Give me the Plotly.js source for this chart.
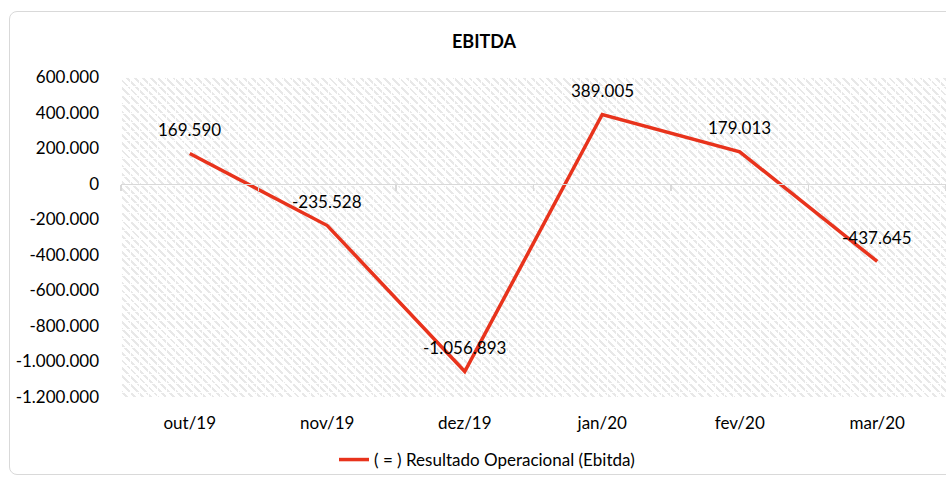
<!DOCTYPE html>
<html>
<head>
<meta charset="utf-8">
<script src="https://cdn.plot.ly/plotly-3.0.1.min.js"></script>
<style>
  html, body { margin:0; padding:0; background:#fff; width:946px; height:479px; overflow:hidden; }
  #frame { position:absolute; left:9px; top:11px; width:980px; height:464px; border:1px solid #d9d9d9; border-radius:8px; box-sizing:border-box; }
  #hatch { position:absolute; left:121px; top:77px; width:825px; height:320px;
    background-color:#fff;
    background-image:
      linear-gradient(to right, rgba(255,255,255,0.95) 1px, transparent 1px),
      linear-gradient(to bottom, rgba(255,255,255,0.95) 1px, transparent 1px),
      repeating-linear-gradient(45deg, #fff 0px, #fff 3.5px, #e8e8e8 3.5px, #e8e8e8 5.5px);
    background-size: 9px 9px, 9px 9px, auto;
  }
  #chart { position:absolute; left:0; top:0; width:946px; height:479px; }
</style>
</head>
<body>
<div id="frame"></div>
<div id="hatch"></div>
<div id="chart"></div>
<script>
const categories = ['out/19','nov/19','dez/19','jan/20','fev/20','mar/20'];
const ebitda = [169590, -235528, -1056893, 389005, 179013, -437645];
const valueLabels = ['169.590','-235.528','-1.056.893','389.005','179.013','-437.645'];
const yTickVals = [600000, 400000, 200000, 0, -200000, -400000, -600000, -800000, -1000000, -1200000];
const yTickText = ['600.000','400.000','200.000','0','-200.000','-400.000','-600.000','-800.000','-1.000.000','-1.200.000'];
const seriesName = '( = ) Resultado Operacional (Ebitda)';

const font = 'Lato, "Open Sans", "Liberation Sans", sans-serif';

const trace = {
  x: categories,
  y: ebitda,
  type: 'scatter',
  mode: 'lines',
  name: seriesName,
  line: { color: '#e8331c', width: 3.5 },
  hoverinfo: 'x+y'
};

const annotations = categories.map((c, i) => ({
  x: c, y: ebitda[i], xref: 'x', yref: 'y', text: valueLabels[i],
  showarrow: false, yshift: 24, xanchor: 'center', yanchor: 'middle',
  font: { family: font, size: 17, color: '#000' }
}));

const layout = {
  width: 946, height: 479,
  margin: { l: 121, r: 0, t: 77, b: 82 },
  paper_bgcolor: 'rgba(0,0,0,0)',
  plot_bgcolor: 'rgba(0,0,0,0)',
  font: { family: font, size: 17, color: '#000' },
  title: { text: '<b>EBITDA</b>', font: { family: font, size: 18, color: '#000' },
           xref: 'container', x: 484/946, xanchor: 'center', yref: 'container', y: 1 - 42/479, yanchor: 'middle' },
  xaxis: {
    type: 'category', showgrid: false, zeroline: false, showline: false, ticks: '',
    tickfont: { family: font, size: 17, color: '#000' }, ticklabelstandoff: 14,
    range: [-0.5, 5.5]
  },
  xaxis2: {
    type: 'category', overlaying: 'x', matches: 'x', anchor: 'free', position: 2/3,
    showgrid: false, zeroline: false, showline: true, linecolor: '#d9d9d9', linewidth: 1.5,
    ticks: 'outside', ticklen: 6, tickcolor: '#d9d9d9', tickwidth: 1.5, tickson: 'boundaries',
    showticklabels: false, side: 'bottom', tickmode: 'array', tickvals: categories
  },
  yaxis: {
    range: [-1200000, 600000], tickmode: 'array', tickvals: yTickVals, ticktext: yTickText,
    showgrid: false, zeroline: false, showline: false, ticks: '',
    tickfont: { family: font, size: 17, color: '#000' }, ticklabelstandoff: 21
  },
  annotations: annotations,
  showlegend: true,
  legend: {
    orientation: 'h', xref: 'container', x: 487/946, xanchor: 'center',
    yref: 'container', y: 1 - 460/479, yanchor: 'middle',
    font: { family: font, size: 17, color: '#000' }, bgcolor: 'rgba(0,0,0,0)'
  }
};

const helper = { x: categories, y: ebitda, xaxis: 'x2', type: 'scatter', mode: 'none', showlegend: false, hoverinfo: 'skip' };

Plotly.newPlot('chart', [helper, trace], layout, { displayModeBar: false, staticPlot: true });
</script>
</body>
</html>
